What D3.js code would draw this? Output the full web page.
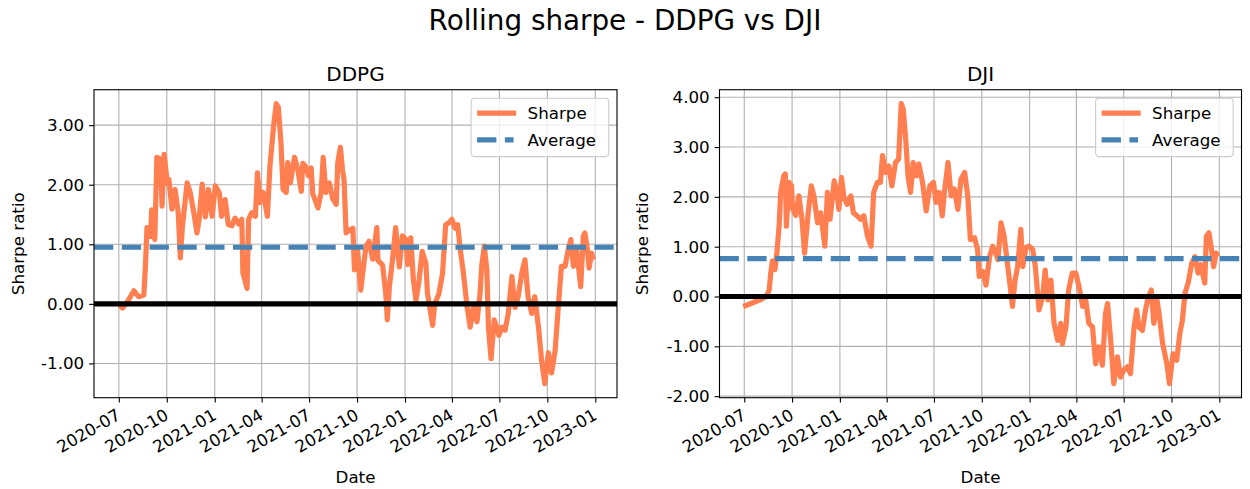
<!DOCTYPE html>
<html>
<head>
<meta charset="utf-8">
<script src="https://cdn.jsdelivr.net/npm/d3@7"></script>
<style>
  body { margin: 0; background: #fff; }
  text { font-family: "DejaVu Sans", sans-serif; fill: #000; }
</style>
</head>
<body>
<svg id="chart" width="1250" height="489"></svg>
<script>
// values (rolling sharpe, approx. weekly points)
var ddpgDates = ["2020-06-29","2020-07-08","2020-07-17","2020-07-30","2020-08-08","2020-08-18","2020-08-21","2020-08-24","2020-08-31","2020-09-02",
  "2020-09-08","2020-09-12","2020-09-19","2020-09-22","2020-09-26","2020-10-02","2020-10-05","2020-10-11","2020-10-17","2020-10-23",
  "2020-10-27","2020-10-31","2020-11-09","2020-11-15","2020-11-22","2020-11-28","2020-12-02","2020-12-08","2020-12-14","2020-12-20",
  "2020-12-27","2021-01-02","2021-01-10","2021-01-14","2021-01-21","2021-01-27","2021-02-03","2021-02-09","2021-02-16","2021-02-22",
  "2021-02-24","2021-03-04","2021-03-07","2021-03-13","2021-03-20","2021-03-24","2021-03-29","2021-04-04","2021-04-12","2021-04-17",
  "2021-04-24","2021-04-29","2021-05-03","2021-05-08","2021-05-12","2021-05-18","2021-05-21","2021-05-26","2021-06-03","2021-06-09",
  "2021-06-16","2021-06-19","2021-06-25","2021-06-30","2021-07-05","2021-07-08","2021-07-18","2021-07-24","2021-07-28","2021-08-02",
  "2021-08-09","2021-08-15","2021-08-22","2021-08-25","2021-08-30","2021-09-03","2021-09-06","2021-09-10","2021-09-16","2021-09-23",
  "2021-09-26","2021-10-02","2021-10-08","2021-10-18","2021-10-24","2021-10-31","2021-11-08","2021-11-10","2021-11-19","2021-11-25",
  "2021-11-28","2021-12-02","2021-12-08","2021-12-14","2021-12-21","2021-12-27","2022-01-03","2022-01-06","2022-01-12","2022-01-17",
  "2022-01-22","2022-01-28","2022-02-03","2022-02-10","2022-02-13","2022-02-23","2022-02-27","2022-03-07","2022-03-14","2022-03-20",
  "2022-03-26","2022-04-01","2022-04-07","2022-04-12","2022-04-17","2022-04-23","2022-04-30","2022-05-06","2022-05-12","2022-05-19",
  "2022-05-25","2022-05-28","2022-06-02","2022-06-07","2022-06-10","2022-06-15","2022-06-21","2022-06-26","2022-06-30","2022-07-06",
  "2022-07-12","2022-07-18","2022-07-25","2022-07-31","2022-08-06","2022-08-13","2022-08-19","2022-08-25","2022-09-01","2022-09-07",
  "2022-09-14","2022-09-20","2022-09-26","2022-10-03","2022-10-09","2022-10-16","2022-10-22","2022-10-28","2022-11-04","2022-11-10",
  "2022-11-15","2022-11-20","2022-11-26","2022-12-04","2022-12-09","2022-12-12","2022-12-17","2022-12-20","2022-12-25","2022-12-28"];
var ddpgSharpe = [0.02,-0.07,0.03,0.22,0.12,0.15,0.63,1.28,1.13,1.58,
  1.08,2.46,2.43,1.64,2.51,2.03,2.09,1.59,1.92,1.53,
  0.77,1.30,2.03,1.87,1.52,1.19,1.42,2.01,1.46,1.92,
  1.47,1.98,1.86,1.47,1.75,1.33,1.31,1.44,1.34,1.42,
  0.52,0.26,1.42,1.53,1.47,2.20,1.70,1.87,1.47,2.32,
  3.00,3.36,3.30,2.71,1.92,1.87,2.37,2.03,2.46,2.27,
  1.89,2.36,2.30,2.15,2.28,1.85,1.61,1.87,2.46,1.87,
  2.03,1.77,1.67,2.37,2.63,2.25,2.09,1.19,1.24,1.27,
  0.57,0.91,0.23,0.96,1.05,0.75,1.28,0.73,0.65,0.18,
  -0.27,0.29,0.74,1.28,0.62,1.14,1.08,0.66,1.11,0.40,
  0.06,0.40,0.88,0.68,0.18,-0.36,0.00,0.17,0.51,1.33,
  1.36,1.42,1.27,1.33,0.91,0.52,-0.05,-0.39,-0.05,-0.30,
  0.18,0.63,0.97,0.57,-0.39,-0.92,-0.27,-0.39,-0.53,-0.39,
  -0.44,-0.16,0.46,-0.06,0.12,0.52,0.74,0.12,-0.16,0.12,
  -0.39,-0.95,-1.34,-0.82,-1.16,-0.78,-0.05,0.63,0.63,0.91,
  1.08,0.63,0.91,0.29,1.14,1.19,0.91,0.60,0.85,0.74];
var ddpgAverage = 0.95;

var djiDates = ["2020-06-29","2020-07-04","2020-07-14","2020-07-23","2020-08-02","2020-08-12","2020-08-18","2020-08-21","2020-08-24","2020-08-29",
  "2020-09-02","2020-09-06","2020-09-09","2020-09-15","2020-09-18","2020-09-20","2020-09-25","2020-09-30","2020-10-02","2020-10-08",
  "2020-10-14","2020-10-20","2020-10-25","2020-11-01","2020-11-07","2020-11-12","2020-11-19","2020-11-25","2020-12-03","2020-12-08",
  "2020-12-13","2020-12-21","2020-12-26","2020-12-30","2021-01-04","2021-01-09","2021-01-15","2021-01-22","2021-01-27","2021-02-03",
  "2021-02-10","2021-02-16","2021-02-23","2021-03-02","2021-03-07","2021-03-14","2021-03-20","2021-03-24","2021-03-30","2021-04-05",
  "2021-04-11","2021-04-18","2021-04-24","2021-04-29","2021-05-03","2021-05-08","2021-05-12","2021-05-17","2021-05-22","2021-05-28",
  "2021-06-02","2021-06-09","2021-06-16","2021-06-23","2021-06-30","2021-07-05","2021-07-11","2021-07-17","2021-07-21","2021-07-28",
  "2021-08-03","2021-08-09","2021-08-16","2021-08-22","2021-08-29","2021-09-04","2021-09-09","2021-09-17","2021-09-23","2021-09-26",
  "2021-10-03","2021-10-09","2021-10-16","2021-10-22","2021-10-28","2021-11-01","2021-11-07","2021-11-13","2021-11-20","2021-11-24",
  "2021-11-29","2021-12-04","2021-12-09","2021-12-15","2021-12-19","2021-12-25","2021-12-31","2022-01-07","2022-01-12","2022-01-19",
  "2022-01-26","2022-01-31","2022-02-05","2022-02-11","2022-02-17","2022-02-24","2022-03-02","2022-03-05","2022-03-12","2022-03-17",
  "2022-03-24","2022-03-31","2022-04-06","2022-04-13","2022-04-19","2022-04-25","2022-05-02","2022-05-08","2022-05-14","2022-05-21",
  "2022-05-27","2022-05-31","2022-06-06","2022-06-12","2022-06-19","2022-06-25","2022-07-01","2022-07-08","2022-07-14","2022-07-21",
  "2022-07-26","2022-07-30","2022-08-06","2022-08-12","2022-08-16","2022-08-23","2022-08-28","2022-09-03","2022-09-07","2022-09-14",
  "2022-09-22","2022-09-27","2022-10-04","2022-10-11","2022-10-17","2022-10-22","2022-10-27","2022-11-02","2022-11-09","2022-11-15",
  "2022-11-21","2022-11-26","2022-12-04","2022-12-07","2022-12-12","2022-12-17","2022-12-21","2022-12-26","2022-12-29"];
var djiSharpe = [-0.20,-0.18,-0.14,-0.10,-0.06,0.00,0.13,0.47,0.71,0.54,
  0.91,1.41,2.09,2.42,2.46,1.41,2.29,2.22,1.76,1.63,
  2.02,1.56,0.87,1.68,2.22,2.02,1.48,1.68,1.01,2.09,
  1.55,2.32,2.09,1.75,2.39,1.98,1.85,2.02,1.68,1.62,
  1.55,1.62,1.21,1.01,2.09,2.29,2.29,2.83,2.49,2.62,
  2.22,2.69,2.76,3.87,3.75,3.10,2.42,2.09,2.69,2.42,
  2.66,2.29,1.72,2.22,2.29,1.89,2.09,1.62,2.09,2.69,
  2.02,2.16,1.75,2.36,2.49,2.02,1.14,1.18,0.94,0.40,
  0.50,0.23,0.80,1.01,0.87,0.74,1.48,1.21,0.60,0.26,
  -0.20,0.33,0.60,1.35,0.60,0.98,1.01,0.94,0.60,-0.27,
  0.00,0.53,-0.07,0.33,-0.54,-0.88,-0.54,-0.95,-0.61,0.13,
  0.47,0.47,0.20,-0.20,-0.07,-0.54,-0.61,-1.35,-1.01,-1.38,
  -0.34,-0.14,-0.88,-1.75,-1.21,-1.62,-1.48,-1.41,-1.55,-0.61,
  -0.27,-0.61,-0.68,-0.27,-0.07,0.13,-0.54,-0.07,-0.34,-0.95,
  -1.35,-1.75,-1.15,-1.28,-0.74,-0.47,0.07,0.27,0.67,0.80,
  0.47,0.64,0.27,1.21,1.28,0.94,0.60,0.87,0.80];
var djiAverage = 0.76;

var dateTicks = ["2020-07","2020-10","2021-01","2021-04","2021-07","2021-10","2022-01","2022-04","2022-07","2022-10","2023-01"];
var ddpgYTicks = [-1, 0, 1, 2, 3];
var djiYTicks = [-2, -1, 0, 1, 2, 3, 4];
var legendLabels = ["Sharpe", "Average"];

var svg = d3.select("#chart");
var parseDay = d3.timeParse("%Y-%m-%d");
var parseMonth = d3.timeParse("%Y-%m");

var sharpeColor = "#FF7F50";
var avgColor = "#4682B4";
var lw = 5.2;
var fs = 16.7; // ticks, labels, legend

// overall title
svg.append("text")
  .attr("x", 625).attr("y", 30)
  .attr("text-anchor", "middle")
  .attr("font-size", 27.8)
  .text("Rolling sharpe - DDPG vs DJI");

zeichnePanel("DDPG", ddpgDates, ddpgSharpe, ddpgAverage, ddpgYTicks, 94, 617, 24);
zeichnePanel("DJI", djiDates, djiSharpe, djiAverage, djiYTicks, 719.5, 1241.5, 648);

function zeichnePanel(titel, dates, values, average, yTicks, left, right, ylabX) {
  var top = 89.7, bottom = 397.7;
  var w = right - left, h = bottom - top;

  var daten = dates.map(function(d, i) { return {date: parseDay(d), value: values[i]}; });

  // 5% padding on both axes, like matplotlib does
  var xExt = d3.extent(daten, function(d) { return d.date; });
  var span = xExt[1] - xExt[0];
  var x = d3.scaleTime()
    .domain([new Date(+xExt[0] - span * 0.05), new Date(+xExt[1] + span * 0.05)])
    .range([0, w]);
  var yExt = d3.extent(values);
  var ySpan = yExt[1] - yExt[0];
  var y = d3.scaleLinear()
    .domain([yExt[0] - ySpan * 0.05, yExt[1] + ySpan * 0.05])
    .range([h, 0]);

  var g = svg.append("g").attr("transform", "translate(" + left + "," + top + ")");
  var tickDates = dateTicks.map(function(d) { return parseMonth(d); });

  // grid
  g.append("g").selectAll("line").data(tickDates).enter().append("line")
    .attr("x1", function(d) { return x(d); }).attr("x2", function(d) { return x(d); })
    .attr("y1", 0).attr("y2", h)
    .attr("stroke", "#b0b0b0").attr("stroke-width", 1.1);
  g.append("g").selectAll("line").data(yTicks).enter().append("line")
    .attr("x1", 0).attr("x2", w)
    .attr("y1", function(d) { return y(d); }).attr("y2", function(d) { return y(d); })
    .attr("stroke", "#b0b0b0").attr("stroke-width", 1.1);

  // sharpe line
  var line = d3.line()
    .x(function(d) { return x(d.date); })
    .y(function(d) { return y(d.value); });
  g.append("path").datum(daten)
    .attr("d", line)
    .attr("fill", "none")
    .attr("stroke", sharpeColor)
    .attr("stroke-width", lw)
    .attr("stroke-linejoin", "round");

  // average
  g.append("line")
    .attr("x1", 0).attr("x2", w)
    .attr("y1", y(average)).attr("y2", y(average))
    .attr("stroke", avgColor).attr("stroke-width", lw)
    .attr("stroke-dasharray", "19.3,8.5");

  // zero line
  g.append("line")
    .attr("x1", 0).attr("x2", w)
    .attr("y1", y(0)).attr("y2", y(0))
    .attr("stroke", "#000").attr("stroke-width", lw);

  // x axis, labels turned 30 deg
  var xAxis = d3.axisBottom(x)
    .tickValues(tickDates)
    .tickFormat(d3.timeFormat("%Y-%m"))
    .tickSizeOuter(0).tickSizeInner(4.9);
  var ax = g.append("g").attr("transform", "translate(0," + h + ")").call(xAxis);
  ax.select(".domain").remove();
  ax.selectAll("line").attr("stroke-width", 1.1);
  ax.selectAll("text")
    .attr("font-size", fs)
    .attr("font-family", "DejaVu Sans")
    .attr("x", 0).attr("y", 0).attr("dy", "0.76em")
    .attr("text-anchor", "end")
    .attr("transform", "translate(-4,9.8) rotate(-30)");

  // y axis
  var yAxis = d3.axisLeft(y)
    .tickValues(yTicks)
    .tickFormat(function(d) { return d.toFixed(2); })
    .tickSizeOuter(0).tickSizeInner(4.9).tickPadding(4.9);
  var ay = g.append("g").call(yAxis);
  ay.select(".domain").remove();
  ay.selectAll("line").attr("stroke-width", 1.1);
  ay.selectAll("text").attr("font-size", fs).attr("font-family", "DejaVu Sans");

  // frame
  g.append("rect")
    .attr("width", w).attr("height", h)
    .attr("fill", "none").attr("stroke", "#000").attr("stroke-width", 1.1);

  // labels
  g.append("text")
    .attr("x", w / 2).attr("y", -8.3)
    .attr("text-anchor", "middle").attr("font-size", 20)
    .text(titel);
  g.append("text")
    .attr("x", w / 2).attr("y", 483 - top)
    .attr("text-anchor", "middle").attr("font-size", fs)
    .text("Date");
  g.append("text")
    .attr("transform", "translate(" + (ylabX - left) + "," + (h / 2) + ") rotate(-90)")
    .attr("text-anchor", "middle").attr("font-size", fs)
    .text("Sharpe ratio");

  // legend top right
  var lgW = 137.6, lgH = 58.4;
  var lg = g.append("g").attr("transform", "translate(" + (w - 8.3 - lgW) + ",8.5)");
  lg.append("rect")
    .attr("width", lgW).attr("height", lgH).attr("rx", 3.5)
    .attr("fill", "#fff").attr("fill-opacity", 0.8)
    .attr("stroke", "#cccccc").attr("stroke-width", 1.1);
  var rows = [15, 41.7];
  legendLabels.forEach(function(lab, i) {
    var l = lg.append("line")
      .attr("x1", 8.6).attr("x2", 42.5)
      .attr("y1", rows[i]).attr("y2", rows[i])
      .attr("stroke-width", lw).attr("stroke-linecap", "square");
    if (i == 0) { l.attr("stroke", sharpeColor); }
    else { l.attr("stroke", avgColor).attr("stroke-dasharray", "19.3,8.5").attr("stroke-linecap", "butt").attr("x1", 6); }
    lg.append("text")
      .attr("x", 56.5).attr("y", rows[i]).attr("dy", "0.35em")
      .attr("font-size", fs)
      .text(lab);
  });
}
</script>
</body>
</html>
